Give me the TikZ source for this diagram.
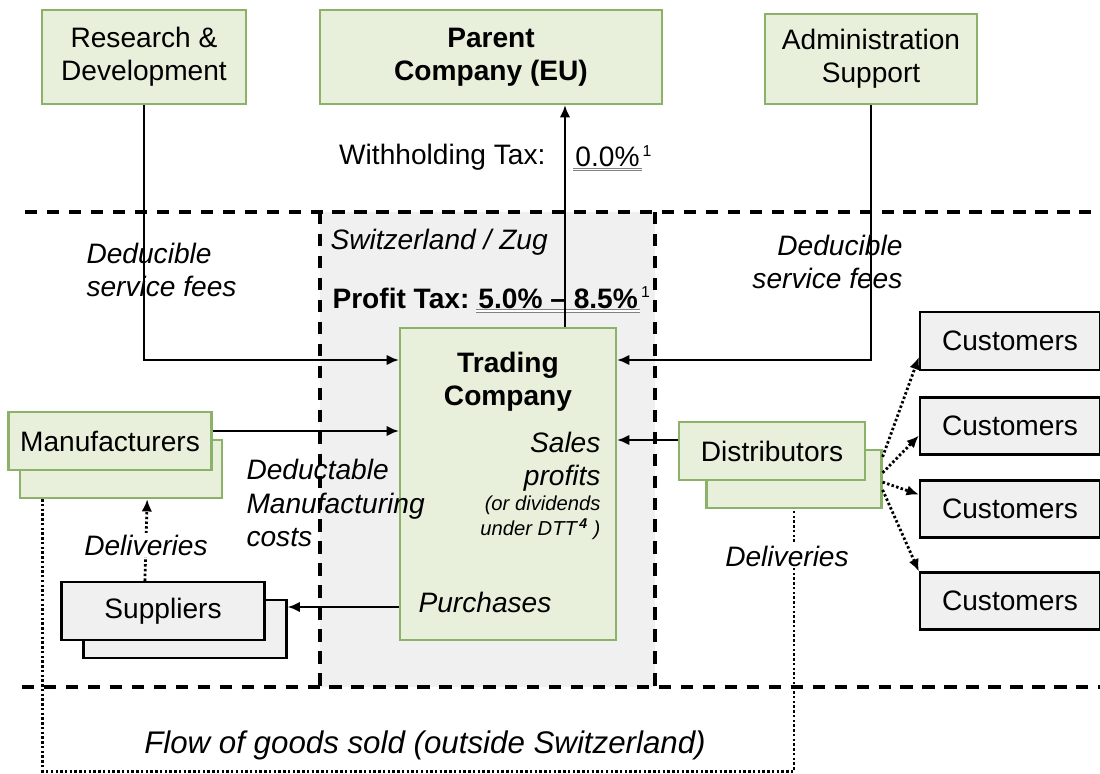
\documentclass[tikz,border=0pt]{standalone}
\usepackage{fontspec}
\setmainfont{Liberation Sans}
\usetikzlibrary{calc,arrows.meta}
\definecolor{boxgreen}{HTML}{E8F0DC}
\definecolor{linegreen}{HTML}{8CB26A}
\definecolor{boxgray}{HTML}{F0F0F0}

\begin{document}
\begin{tikzpicture}[x=0.02cm,y=-0.02cm,thick,font=\fontsize{16}{19}\selectfont]
        %
        % `greenbox' is used for the company boxes, `graybox' for outside parties.
        % `border' is the dashed country border, `flow' the dotted delivery lines.
        \tikzstyle{greenbox} = [draw=linegreen,fill=boxgreen,line width=1.3pt,align=center,inner sep=0pt]
        \tikzstyle{graybox} = [draw=black,fill=boxgray,line width=1.3pt,align=center,inner sep=0pt]
        \tikzstyle{border} = [line width=2.2pt,dash pattern=on 7pt off 5.5pt]
        \tikzstyle{flow} = [line width=1.6pt,dash pattern=on 1.4pt off 1.3pt]
        \tikzstyle{money} = [line width=1.3pt,-{Latex[length=7pt,width=6pt]}]
        \tikzstyle{remark} = [font=\fontsize{16}{19}\selectfont\itshape]
        %
        \useasboundingbox (0,0) rectangle (1100,774);
        %
        % Switzerland region
        \fill[boxgray] (320,212) rectangle (655,687);
        \draw[border] (25,212) -- (1100,212);
        \draw[border] (22,687) -- (1100,687);
        \draw[border,line width=1.8pt] (320,212) -- (320,687);
        \draw[border,line width=1.8pt] (655,212) -- (655,687);
        %
        % Top row
        \node[greenbox,minimum width=4.08cm,minimum height=1.88cm] (rnd) at (144,57) {Research \&\\Development};
        \node[greenbox,minimum width=6.84cm,minimum height=1.88cm,font=\fontsize{16}{19}\selectfont\bfseries] (parent) at (491,57) {Parent\\Company (EU)};
        \node[greenbox,minimum width=4.24cm,minimum height=1.8cm] (admin) at (871,59) {Administration\\Support};
        %
        % Trading company
        \node[greenbox,minimum width=4.32cm,minimum height=6.24cm] (trade) at (508,484) {};
        %
        % Left column
        \node[greenbox,minimum width=4.04cm,minimum height=1.16cm] (manuback) at (121,469) {};
        \node[greenbox,minimum width=4.06cm,minimum height=1.16cm] (manu) at (110,441) {Manufacturers};
        \node[graybox,minimum width=4.06cm,minimum height=1.16cm] (suppback) at (185,629) {};
        \node[graybox,minimum width=4.06cm,minimum height=1.16cm] (supp) at (163,611) {Suppliers};
        %
        % Right column
        \node[greenbox,minimum width=3.5cm,minimum height=1.16cm] (distrback) at (794,479) {};
        \node[greenbox,minimum width=3.72cm,minimum height=1.16cm] (distr) at (772,451) {Distributors};
        \node[graybox,minimum width=3.6cm,minimum height=1.16cm] (cust1) at (1010,341) {Customers};
        \node[graybox,minimum width=3.6cm,minimum height=1.14cm] (cust2) at (1010,426) {Customers};
        \node[graybox,minimum width=3.6cm,minimum height=1.14cm] (cust3) at (1010,509) {Customers};
        \node[graybox,minimum width=3.6cm,minimum height=1.14cm] (cust4) at (1010,601) {Customers};
        %
        % Service fees
        \coordinate (rndin) at (trade.west |- 0,360);
        \coordinate (adminin) at (trade.east |- 0,360);
        \draw[money] (rnd.south) |- (rndin);
        \draw[money] (admin.south) |- (adminin);
        %
        % Payments into the trading company
        \draw[money] ($(manu.east)+(0,-10)$) coordinate (mfrom) -- (mfrom -| trade.west);
        \draw[money] ($(distr.west)+(0,-11)$) coordinate (dfrom) -- (dfrom -| trade.east);
        \draw[money] ($(trade.west)+(0,123)$) coordinate (pfrom) -- (pfrom -| suppback.east);
        %
        % Deliveries
        \draw[flow,-{Latex[length=7pt,width=6pt]}] (supp.121) -- (manuback.311);
        \draw[flow,-{Latex[length=7pt,width=6pt]}] (distrback.14) -- (cust1.190);
        \draw[flow,-{Latex[length=7pt,width=6pt]}] (distrback.4) -- (cust2.186);
        \draw[flow,-{Latex[length=7pt,width=6pt]}] (distrback.358) -- (cust3.171);
        \draw[flow,-{Latex[length=7pt,width=6pt]}] (distrback.353) -- (cust4.162);
        \draw[flow] ($(manuback.south west)+(24,0)$) -- ++(0,272) -| (distrback.south);
        %
        % Texts
        \node[font=\fontsize{16}{19}\selectfont\bfseries,align=center] (tradetxt) at (508,382) {Trading\\Company};
        \node[remark,align=right,anchor=east] (sales) at (607,462) {Sales\\profits};
        \node[font=\fontsize{11.5}{14.5}\selectfont\itshape,align=right,anchor=east] (dtt) at (607,518) {(or dividends\\under DTT\textsuperscript{\,\bfseries 4} )};
        \node[remark] (purch) at (485,602) {Purchases};
        \node[remark,align=left,anchor=west] (feesl) at (80,270) {Deducible\\service fees};
        \node[remark,align=right,anchor=east] (feesr) at (909,262) {Deducible\\service fees};
        \node[remark,align=left,anchor=west] (mcost) at (240,503) {Deductable\\Manufacturing\\costs};
        \node[remark,fill=white,inner sep=1pt] (delivl) at (146,545) {Deliveries};
        \node[remark,fill=white,inner sep=1pt] (delivr) at (787,556) {Deliveries};
        \node[remark,font=\fontsize{17.8}{20}\selectfont\itshape] (flowtxt) at (425,745) {Flow of goods sold (outside Switzerland)};
        \node[remark,anchor=west] (zug) at (324,242) {Switzerland / Zug};
        %
        % Taxes
        \node[anchor=west,font=\fontsize{16}{19}\selectfont\bfseries] (ptax) at (326,298) {Profit Tax:};
        \node[anchor=base west,inner sep=1pt,font=\fontsize{16}{19}\selectfont\bfseries] (prate) at (ptax.base east) {5.0\% -- 8.5\%};
        \node[anchor=north west,inner sep=0pt,font=\fontsize{9}{10}\selectfont] (psup) at (prate.north east) {1};
        \draw[gray,double,double distance=0.9pt,line width=0.6pt] (prate.south west) -- (prate.south east);
        \node[anchor=east] (wtax) at (552,157) {Withholding Tax:};
        \node[anchor=west,inner sep=1pt] (wrate) at (573,157) {0.0\%};
        \node[anchor=north west,inner sep=0pt,font=\fontsize{9}{10}\selectfont] (wsup) at (wrate.north east) {1};
        \draw[gray,double,double distance=0.9pt,line width=0.6pt] (wrate.south west) -- (wrate.south east);
        \draw[money] ($(trade.north)+(57,0)$) coordinate (wfrom) -- (wfrom |- parent.south);
        %
\end{tikzpicture}
\end{document}
